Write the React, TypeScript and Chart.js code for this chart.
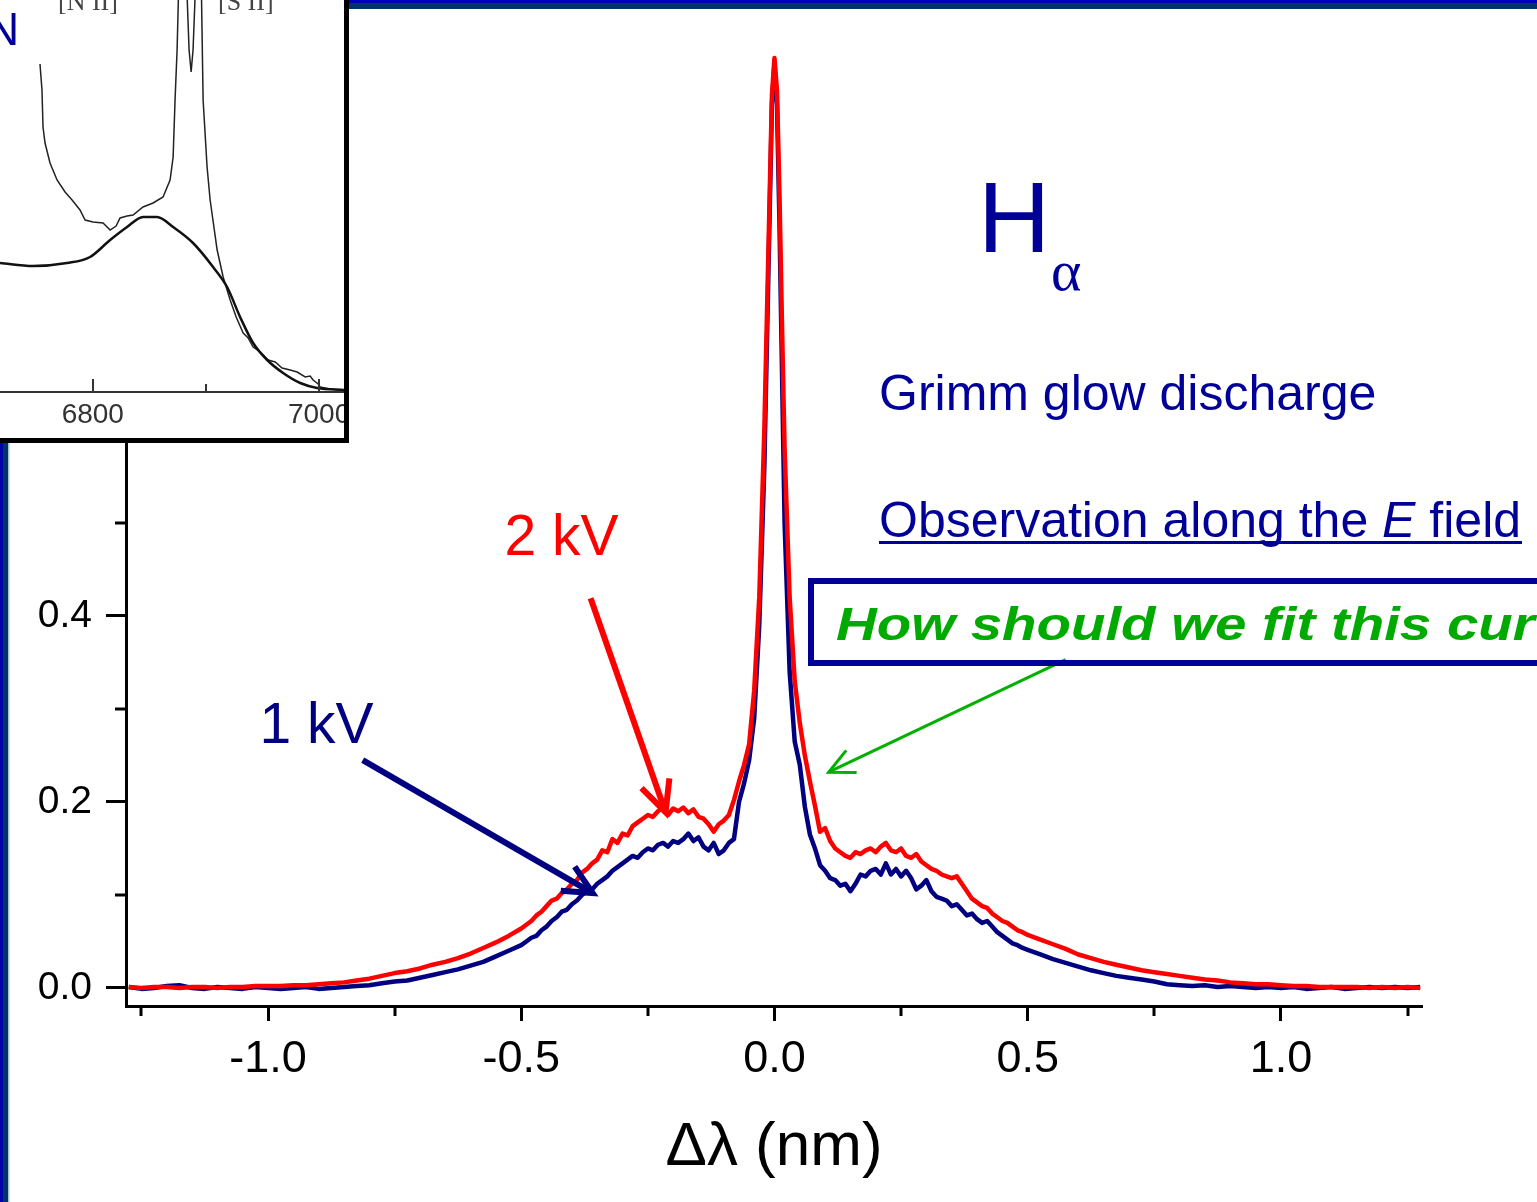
import React, { useEffect, useRef } from "react";
import { Chart, registerables } from "chart.js";
Chart.register(...registerables);

const FONT = "'Liberation Sans', Arial, Helvetica, sans-serif";

// ---- main chart data: wavelength offset (nm) ----
const deltaLambda = [
  -1.275, -1.25, -1.225, -1.2, -1.175, -1.15, -1.125, -1.1, -1.075, -1.05, -1.025, -1.0, -0.975, -0.95, -0.925, -0.9,
  -0.875, -0.85, -0.825, -0.8, -0.775, -0.75, -0.725, -0.7, -0.675, -0.65, -0.625, -0.6, -0.575, -0.55, -0.525,
  -0.5, -0.49, -0.48, -0.47, -0.46, -0.45, -0.44, -0.43, -0.42, -0.41, -0.4, -0.39, -0.38, -0.37, -0.36, -0.35,
  -0.34, -0.33, -0.32, -0.31, -0.3, -0.29, -0.28, -0.27, -0.26, -0.25, -0.24, -0.23, -0.22, -0.21, -0.2, -0.19,
  -0.18, -0.17, -0.16, -0.15, -0.14, -0.13, -0.12, -0.11, -0.1, -0.09, -0.08, -0.07, -0.06, -0.05, -0.04, -0.03, -0.02,
  -0.015, -0.01, -0.005, 0, 0.005, 0.01, 0.015,
  0.02, 0.03, 0.04, 0.05, 0.06, 0.07, 0.08, 0.09, 0.1, 0.11, 0.12, 0.13, 0.14, 0.15, 0.16, 0.17, 0.18, 0.19, 0.2,
  0.21, 0.22, 0.23, 0.24, 0.25, 0.26, 0.27, 0.28, 0.29, 0.3, 0.31, 0.32, 0.33, 0.34, 0.35, 0.36, 0.37, 0.38, 0.39,
  0.4, 0.41, 0.42, 0.43, 0.44, 0.45, 0.46, 0.47, 0.48, 0.49, 0.5,
  0.525, 0.55, 0.575, 0.6, 0.625, 0.65, 0.675, 0.7, 0.725, 0.75, 0.775, 0.8, 0.825, 0.85, 0.875, 0.9, 0.925, 0.95,
  0.975, 1.0, 1.025, 1.05, 1.075, 1.1, 1.125, 1.15, 1.175, 1.2, 1.225, 1.25, 1.275,
];

// 2 kV (red)
const intensity2kV = [
  0.001, 0.0, 0.001, 0.001, 0.0, 0.001, 0.001, 0.0, 0.001, 0.001, 0.002, 0.002, 0.002, 0.003, 0.003, 0.004,
  0.005, 0.006, 0.008, 0.01, 0.013, 0.016, 0.018, 0.021, 0.025, 0.028, 0.032, 0.037, 0.043, 0.049, 0.056,
  0.064, 0.068, 0.072, 0.078, 0.082, 0.088, 0.094, 0.096, 0.102, 0.106, 0.112, 0.116, 0.124, 0.128, 0.134, 0.138,
  0.148, 0.146, 0.16, 0.156, 0.166, 0.164, 0.174, 0.178, 0.182, 0.186, 0.184, 0.19, 0.194, 0.186, 0.193, 0.19,
  0.194, 0.188, 0.192, 0.184, 0.182, 0.176, 0.168, 0.176, 0.18, 0.186, 0.202, 0.222, 0.24, 0.262, 0.32, 0.42, 0.6,
  0.72, 0.84, 0.96, 1.0, 0.965, 0.85, 0.71,
  0.58, 0.42, 0.33, 0.285, 0.25, 0.222, 0.196, 0.168, 0.172, 0.158, 0.15, 0.146, 0.142, 0.14, 0.146, 0.144, 0.148, 0.15, 0.146,
  0.152, 0.156, 0.148, 0.146, 0.15, 0.142, 0.14, 0.144, 0.136, 0.132, 0.128, 0.126, 0.122, 0.12, 0.118, 0.12, 0.112, 0.104, 0.096,
  0.092, 0.088, 0.086, 0.08, 0.076, 0.072, 0.07, 0.066, 0.062, 0.06, 0.057,
  0.052, 0.047, 0.042, 0.036, 0.032, 0.028, 0.025, 0.022, 0.019, 0.017, 0.015, 0.013, 0.011, 0.009, 0.008, 0.006, 0.005, 0.004,
  0.004, 0.003, 0.002, 0.002, 0.001, 0.001, 0.001, 0.001, 0.0, 0.001, 0.0, 0.001, 0.0,
];

// 1 kV (navy)
const intensity1kV = [
  0.001, -0.001, 0.0, 0.002, 0.003, 0.0, -0.001, 0.001, 0.0, -0.001, 0.001, 0.0, -0.001, 0.0, 0.001, -0.001,
  0.0, 0.001, 0.002, 0.003, 0.005, 0.007, 0.008, 0.011, 0.014, 0.017, 0.02, 0.024, 0.028, 0.034, 0.04,
  0.046, 0.05, 0.054, 0.056, 0.062, 0.066, 0.072, 0.076, 0.082, 0.084, 0.09, 0.094, 0.1, 0.104, 0.106, 0.112,
  0.116, 0.12, 0.126, 0.13, 0.134, 0.138, 0.142, 0.14, 0.146, 0.15, 0.148, 0.154, 0.156, 0.152, 0.158, 0.156,
  0.16, 0.166, 0.158, 0.162, 0.152, 0.148, 0.156, 0.144, 0.148, 0.156, 0.16, 0.2, 0.22, 0.245, 0.29, 0.39, 0.56,
  0.69, 0.82, 0.95, 0.995, 0.95, 0.82, 0.66,
  0.5, 0.34, 0.265, 0.24, 0.195, 0.165, 0.15, 0.132, 0.126, 0.118, 0.116, 0.11, 0.112, 0.104, 0.112, 0.122, 0.12, 0.126, 0.128,
  0.122, 0.134, 0.122, 0.128, 0.12, 0.126, 0.118, 0.106, 0.11, 0.116, 0.104, 0.098, 0.096, 0.094, 0.088, 0.09, 0.084, 0.078, 0.08,
  0.074, 0.07, 0.072, 0.066, 0.06, 0.056, 0.052, 0.048, 0.046, 0.043, 0.041,
  0.036, 0.031, 0.027, 0.023, 0.019, 0.016, 0.013, 0.011, 0.009, 0.007, 0.004, 0.003, 0.002, 0.003, 0.001, 0.002, 0.001, 0.0,
  0.001, 0.0, 0.001, -0.001, 0.0, 0.001, -0.001, 0.0, 0.001, 0.0, 0.001, 0.0, 0.001,
];

const xTickValues = [-1.0, -0.5, 0.0, 0.5, 1.0];
const xMinorTickValues = [-1.25, -0.75, -0.25, 0.25, 0.75, 1.25];
const yTickValues = [0.0, 0.2, 0.4, 0.6, 0.8, 1.0];
const yMinorTickValues = [0.1, 0.3, 0.5, 0.7, 0.9];

// annotation arrows (data coordinates)
const arrowFrom = [[-0.363, 0.419], [-0.813, 0.245], [0.575, 0.353]];
const arrowTo = [[-0.215, 0.189], [-0.359, 0.102], [0.107, 0.232]];
const arrowColors = ["#FF0000", "#000080", "#00B000"];
const arrowWidths = [6, 6, 3];
const arrowHeads = [34, 32, 28];

const curveLabels = ["2 kV", "1 kV"];
const curveLabelAt = [[-0.533, 0.466], [-1.017, 0.263]];
const curveLabelColors = ["#FF0000", "#000080"];

// ---- inset data: wavelength (Å) vs relative intensity ----
const insetSpecLambda = [
  6752.5, 6753.4, 6755.1, 6756.0, 6757.8, 6762.2, 6768.4, 6775.5, 6781.7, 6788.7, 6793.2, 6800.2, 6809.1, 6815.3,
  6820.6, 6824.1, 6830.3, 6835.6, 6844.4, 6853.3, 6862.1, 6868.3, 6871.0, 6872.7, 6874.5, 6876.3, 6882.5, 6885.1,
  6886.9, 6888.6, 6891.3, 6895.7, 6897.5, 6901.0, 6903.7, 6909.9, 6915.2, 6921.4, 6926.7, 6932.9, 6937.3, 6941.7,
  6947.9, 6955.0, 6961.2, 6967.3, 6974.4, 6980.6, 6987.7, 6992.1, 6994.7, 6999.2, 7000.9, 7009.8, 7023.0,
];
const insetSpecIntensity = [
  4.12, 3.27, 3.02, 2.65, 2.49, 2.29, 2.12, 2.0, 1.92, 1.82, 1.72, 1.7, 1.69, 1.62,
  1.66, 1.74, 1.76, 1.77, 1.85, 1.89, 1.95, 2.12, 2.35, 2.92, 3.42, 4.22, 4.22, 3.42,
  3.2, 3.42, 4.22, 4.22, 2.92, 2.25, 1.92, 1.42, 1.15, 0.92, 0.75, 0.59, 0.54, 0.45,
  0.4, 0.32, 0.3, 0.24, 0.22, 0.2, 0.15, 0.16, 0.12, 0.08, 0.05, 0.03, 0.01,
];
const insetFitLambda = [
  6718.0, 6747.2, 6777.2, 6797.6, 6815.3, 6830.3, 6844.4, 6856.8, 6871.0, 6888.6, 6906.3, 6918.7, 6930.2, 6941.7,
  6954.1, 6968.2, 6983.3, 6998.3, 7023.0,
];
const insetFitIntensity = [
  1.29, 1.26, 1.29, 1.35, 1.52, 1.65, 1.75, 1.75, 1.65, 1.49, 1.25, 1.05, 0.75, 0.49,
  0.32, 0.19, 0.09, 0.04, 0.02,
];
const insetTickValues = [6800, 6900, 7000];
const insetLabelledTicks = [6800, 7000];

const mainOverlay = {
  id: "mainOverlay",
  afterDraw(chart: any) {
    const { ctx, chartArea } = chart;
    const xs = chart.scales.x;
    const ys = chart.scales.y;
    ctx.save();
    ctx.strokeStyle = "#000";
    ctx.lineWidth = 3;
    xMinorTickValues.forEach((v) => {
      const px = Math.round(xs.getPixelForValue(v));
      ctx.beginPath();
      ctx.moveTo(px, chartArea.bottom);
      ctx.lineTo(px, chartArea.bottom + 10);
      ctx.stroke();
    });
    yMinorTickValues.forEach((v) => {
      const py = Math.round(ys.getPixelForValue(v));
      ctx.beginPath();
      ctx.moveTo(chartArea.left, py);
      ctx.lineTo(chartArea.left - 11, py);
      ctx.stroke();
    });
    // arrows
    arrowFrom.forEach((f, i) => {
      const x1 = xs.getPixelForValue(f[0]);
      const y1 = ys.getPixelForValue(f[1]);
      const x2 = xs.getPixelForValue(arrowTo[i][0]);
      const y2 = ys.getPixelForValue(arrowTo[i][1]);
      const ang = Math.atan2(y2 - y1, x2 - x1);
      const h = arrowHeads[i];
      ctx.strokeStyle = arrowColors[i];
      ctx.lineWidth = arrowWidths[i];
      ctx.lineCap = "butt";
      ctx.lineJoin = "miter";
      ctx.beginPath();
      ctx.moveTo(x1, y1);
      ctx.lineTo(x2, y2);
      ctx.stroke();
      ctx.beginPath();
      ctx.moveTo(x2 - h * Math.cos(ang - 0.45), y2 - h * Math.sin(ang - 0.45));
      ctx.lineTo(x2, y2);
      ctx.lineTo(x2 - h * Math.cos(ang + 0.45), y2 - h * Math.sin(ang + 0.45));
      ctx.stroke();
    });
    // curve labels
    ctx.font = `57px ${FONT}`;
    ctx.textAlign = "left";
    ctx.textBaseline = "alphabetic";
    curveLabels.forEach((t, i) => {
      ctx.fillStyle = curveLabelColors[i];
      ctx.fillText(t, xs.getPixelForValue(curveLabelAt[i][0]), ys.getPixelForValue(curveLabelAt[i][1]));
    });
    ctx.restore();
  },
};

const insetOverlay = {
  id: "insetOverlay",
  afterDraw(chart: any) {
    const { ctx, chartArea } = chart;
    const xs = chart.scales.x;
    ctx.save();
    ctx.strokeStyle = "#333";
    ctx.lineWidth = 2;
    insetTickValues.forEach((v) => {
      const px = Math.round(xs.getPixelForValue(v));
      const len = insetLabelledTicks.includes(v) ? 13 : 8;
      ctx.beginPath();
      ctx.moveTo(px, chartArea.bottom);
      ctx.lineTo(px, chartArea.bottom - len);
      ctx.stroke();
    });
    ctx.restore();
  },
};

export default function App() {
  const mainRef = useRef<HTMLCanvasElement>(null);
  const insetRef = useRef<HTMLCanvasElement>(null);

  useEffect(() => {
    const main = new Chart(mainRef.current as HTMLCanvasElement, {
      type: "line",
      data: {
        datasets: [
          {
            label: "2 kV",
            data: deltaLambda.map((x, i) => ({ x, y: intensity2kV[i] })),
            borderColor: "#FF0000",
            borderWidth: 4.5,
            pointRadius: 0,
            tension: 0,
            borderJoinStyle: "round",
          },
          {
            label: "1 kV",
            data: deltaLambda.map((x, i) => ({ x, y: intensity1kV[i] })),
            borderColor: "#000080",
            borderWidth: 4.5,
            pointRadius: 0,
            tension: 0,
            borderJoinStyle: "round",
          },
        ],
      },
      options: {
        responsive: false,
        animation: false,
        devicePixelRatio: 1,
        layout: { padding: { left: 0, right: 115, top: 40, bottom: 0 } },
        plugins: { legend: { display: false }, tooltip: { enabled: false } },
        scales: {
          x: {
            type: "linear",
            min: -1.2804,
            max: 1.2786,
            afterFit: (s: any) => {
              s.height = 196;
            },
            afterBuildTicks: (s: any) => {
              s.ticks = xTickValues.map((v) => ({ value: v }));
            },
            ticks: {
              autoSkip: false,
              maxRotation: 0,
              padding: 12,
              color: "#000",
              font: { size: 45, family: FONT },
              callback: (v: any) => Number(v).toFixed(1),
            },
            grid: { display: true, drawOnChartArea: false, drawTicks: true, tickLength: 15, tickWidth: 3, tickColor: "#000" },
            border: { display: true, color: "#000", width: 3 },
            title: {
              display: true,
              text: "Δλ (nm)",
              color: "#000",
              font: { size: 62, family: FONT },
              padding: { top: 0, bottom: 17 },
            },
          },
          y: {
            type: "linear",
            min: -0.0194,
            max: 1.0194,
            afterFit: (s: any) => {
              s.width = 126;
            },
            afterBuildTicks: (s: any) => {
              s.ticks = yTickValues.map((v) => ({ value: v }));
            },
            ticks: {
              autoSkip: false,
              padding: 14,
              color: "#000",
              font: { size: 39, family: FONT },
              callback: (v: any) => Number(v).toFixed(1),
            },
            grid: { display: true, drawOnChartArea: false, drawTicks: true, tickLength: 20, tickWidth: 3, tickColor: "#000" },
            border: { display: true, color: "#000", width: 3 },
          },
        },
      } as any,
      plugins: [mainOverlay],
    });

    const inset = new Chart(insetRef.current as HTMLCanvasElement, {
      type: "line",
      data: {
        datasets: [
          {
            label: "fit",
            data: insetFitLambda.map((x, i) => ({ x, y: insetFitIntensity[i] })),
            borderColor: "#111",
            borderWidth: 2.5,
            pointRadius: 0,
            tension: 0.4,
            cubicInterpolationMode: "monotone",
          },
          {
            label: "spectrum",
            data: insetSpecLambda.map((x, i) => ({ x, y: insetSpecIntensity[i] })),
            borderColor: "#222",
            borderWidth: 1.5,
            pointRadius: 0,
            tension: 0,
          },
        ],
      },
      options: {
        responsive: false,
        animation: false,
        devicePixelRatio: 1,
        layout: { padding: { left: 0, right: 16, top: 0, bottom: 0 } },
        plugins: { legend: { display: false }, tooltip: { enabled: false } },
        scales: {
          x: {
            type: "linear",
            min: 6718,
            max: 7022,
            afterFit: (s: any) => {
              s.height = 46;
            },
            afterBuildTicks: (s: any) => {
              s.ticks = insetTickValues.map((v) => ({ value: v }));
            },
            ticks: {
              autoSkip: false,
              maxRotation: 0,
              padding: 6,
              color: "#333",
              font: { size: 28, family: FONT },
              callback: (v: any) => (insetLabelledTicks.includes(Number(v)) ? String(v) : ""),
            },
            grid: { display: false, drawTicks: false },
            border: { display: true, color: "#333", width: 2 },
          },
          y: { type: "linear", min: 0, max: 3.92, display: false },
        },
      } as any,
      plugins: [insetOverlay],
    });

    return () => {
      main.destroy();
      inset.destroy();
    };
  }, []);

  return (
    <div
      style={{
        position: "fixed",
        left: 0,
        top: 0,
        width: 1537,
        height: 1202,
        overflow: "hidden",
        background: "#fff",
      }}
    >
      <canvas ref={mainRef} width={1537} height={1202} style={{ position: "absolute", left: 0, top: 0 }} />
      <svg
        width={1537}
        height={1202}
        style={{ position: "absolute", left: 0, top: 0, pointerEvents: "none" }}
        fontFamily={FONT}
      >
        <rect x={0} y={0} width={3} height={1202} fill="#0000AA" />
        <rect x={3} y={0} width={5} height={1202} fill="#003366" />
        <rect x={8} y={0} width={1.5} height={1202} fill="#A8C0DA" />
        <rect x={343} y={0} width={1194} height={3} fill="#0000B4" />
        <rect x={343} y={3} width={1194} height={6} fill="#003366" />
        <text x={978} y={252} fontSize={100} fill="#000099">H</text>
        <text x={1051} y={290} fontSize={58} fill="#000099" fontFamily="'Liberation Serif', 'Times New Roman', serif">α</text>
        <text x={879} y={410} fontSize={50} fill="#000099">Grimm glow discharge</text>
        <text x={879} y={537} fontSize={50} fill="#000099">
          Observation along the <tspan fontStyle="italic">E</tspan> field
        </text>
        <rect x={879} y={541} width={643} height={3} fill="#000099" />
        <rect x={811} y={581} width={800} height={82} fill="none" stroke="#000099" strokeWidth={6} />
        <g transform="translate(836,640) scale(1.2,1)">
          <text x={0} y={0} fontSize={47} fontWeight="bold" fontStyle="italic" fill="#00AA00">
            How should we fit this curve?
          </text>
        </g>
      </svg>
      <div
        style={{
          position: "absolute",
          left: 0,
          top: 0,
          width: 349,
          height: 443,
          boxSizing: "border-box",
          borderRight: "5px solid #000",
          borderBottom: "5px solid #000",
          background: "#fff",
          overflow: "hidden",
        }}
      >
        <canvas ref={insetRef} width={360} height={438} style={{ position: "absolute", left: 0, top: 0 }} />
        <svg width={344} height={438} style={{ position: "absolute", left: 0, top: 0 }}>
          <rect x={0} y={0} width={58} height={64} fill="#fff" />
          <text x={-14} y={45} fontSize={46} fill="#000099" fontFamily={FONT}>N</text>
          <text x={58} y={10} fontSize={26} fill="#444" fontFamily="'Liberation Serif', serif">[N II]</text>
          <text x={218} y={10} fontSize={26} fill="#444" fontFamily="'Liberation Serif', serif">[S II]</text>
        </svg>
      </div>
    </div>
  );
}
